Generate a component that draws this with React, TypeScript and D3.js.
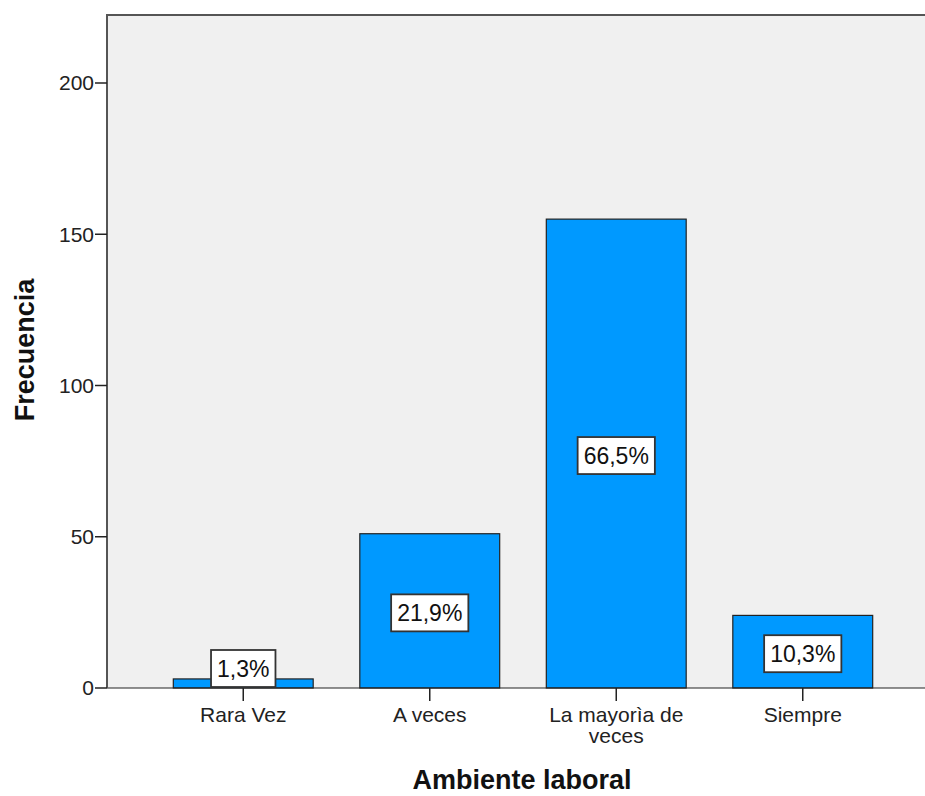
import React, { useEffect, useRef } from "react";
import * as d3 from "d3";

const categories = ["Rara Vez", "A veces", "La mayorìa de veces", "Siempre"];
const categoryLines = [["Rara Vez"], ["A veces"], ["La mayorìa de", "veces"], ["Siempre"]];
const frequencies = [3, 51, 155, 24];
const percentLabels = ["1,3%", "21,9%", "66,5%", "10,3%"];
const yTicks = [0, 50, 100, 150, 200];

const W = 925;
const H = 796;
const FONT = "'Liberation Sans', Arial, sans-serif";

export default function App() {
  const ref = useRef<SVGSVGElement | null>(null);

  useEffect(() => {
    const svg = d3.select(ref.current);
    svg.selectAll("*").remove();

    const left = 107;
    const right = 925;
    const top = 14;
    const bottom = 688;

    const y = d3.scaleLinear().domain([0, 200]).range([bottom, 83]);
    const x = d3
      .scaleBand<string>()
      .domain(categories)
      .range([150, 896])
      .paddingInner(0.25)
      .paddingOuter(0.125);

    svg
      .append("rect")
      .attr("x", left)
      .attr("y", top)
      .attr("width", right - left)
      .attr("height", bottom - top)
      .attr("fill", "#f0f0f0");

    svg
      .append("line")
      .attr("x1", left)
      .attr("x2", right)
      .attr("y1", top + 1)
      .attr("y2", top + 1)
      .attr("stroke", "#555")
      .attr("stroke-width", 2);

    const g = svg.append("g");
    categories.forEach((c, i) => {
      const v = frequencies[i];
      g.append("rect")
        .attr("x", x(c)!)
        .attr("y", y(v))
        .attr("width", x.bandwidth())
        .attr("height", y(0) - y(v))
        .attr("fill", "#0099ff")
        .attr("stroke", "#222")
        .attr("stroke-width", 1.2);
    });

    svg
      .append("line")
      .attr("x1", left)
      .attr("x2", right)
      .attr("y1", bottom)
      .attr("y2", bottom)
      .attr("stroke", "#222")
      .attr("stroke-width", 1.2);

    svg
      .append("line")
      .attr("x1", left)
      .attr("x2", left)
      .attr("y1", top)
      .attr("y2", bottom)
      .attr("stroke", "#555")
      .attr("stroke-width", 2);

    yTicks.forEach((t) => {
      svg
        .append("line")
        .attr("x1", left - 12)
        .attr("x2", left)
        .attr("y1", y(t))
        .attr("y2", y(t))
        .attr("stroke", "#222")
        .attr("stroke-width", 1.5);
      svg
        .append("text")
        .attr("x", left - 13)
        .attr("y", y(t))
        .attr("dy", "0.35em")
        .attr("text-anchor", "end")
        .attr("font-family", FONT)
        .attr("font-size", 21)
        .attr("fill", "#222")
        .text(String(t));
    });

    categories.forEach((c, i) => {
      const cx = x(c)! + x.bandwidth() / 2;
      svg
        .append("line")
        .attr("x1", cx)
        .attr("x2", cx)
        .attr("y1", bottom)
        .attr("y2", bottom + 13)
        .attr("stroke", "#222")
        .attr("stroke-width", 1.5);
      const t = svg
        .append("text")
        .attr("text-anchor", "middle")
        .attr("font-family", FONT)
        .attr("font-size", 21)
        .attr("fill", "#222");
      categoryLines[i].forEach((line, k) => {
        t.append("tspan")
          .attr("x", cx)
          .attr("y", 722 + k * 21)
          .text(line);
      });
    });

    categories.forEach((c, i) => {
      const v = frequencies[i];
      const cx = x(c)! + x.bandwidth() / 2;
      const boxH = 37;
      let cy = (y(v) + y(0)) / 2 + 2;
      if (cy + boxH / 2 > bottom) cy = bottom - boxH / 2 - 1;
      const lg = svg.append("g");
      const rect = lg.append("rect");
      const txt = lg
        .append("text")
        .attr("x", cx)
        .attr("y", cy)
        .attr("dy", "0.36em")
        .attr("text-anchor", "middle")
        .attr("font-family", FONT)
        .attr("font-size", 23)
        .attr("fill", "#111")
        .text(percentLabels[i]);
      const w = (txt.node() as SVGTextElement).getComputedTextLength() + 12;
      rect
        .attr("x", cx - w / 2)
        .attr("y", cy - boxH / 2)
        .attr("width", w)
        .attr("height", boxH)
        .attr("fill", "#fff")
        .attr("stroke", "#333")
        .attr("stroke-width", 1.8);
    });

    svg
      .append("text")
      .attr("x", 522)
      .attr("y", 789)
      .attr("text-anchor", "middle")
      .attr("font-family", FONT)
      .attr("font-weight", "bold")
      .attr("font-size", 27)
      .attr("fill", "#111")
      .text("Ambiente laboral");

    svg
      .append("text")
      .attr("transform", `translate(34,${350}) rotate(-90)`)
      .attr("text-anchor", "middle")
      .attr("font-family", FONT)
      .attr("font-weight", "bold")
      .attr("font-size", 27)
      .attr("fill", "#111")
      .text("Frecuencia");
  }, []);

  return (
    <svg
      ref={ref}
      width={W}
      height={H}
      style={{ position: "absolute", left: 0, top: 0, background: "#fff" }}
    />
  );
}
